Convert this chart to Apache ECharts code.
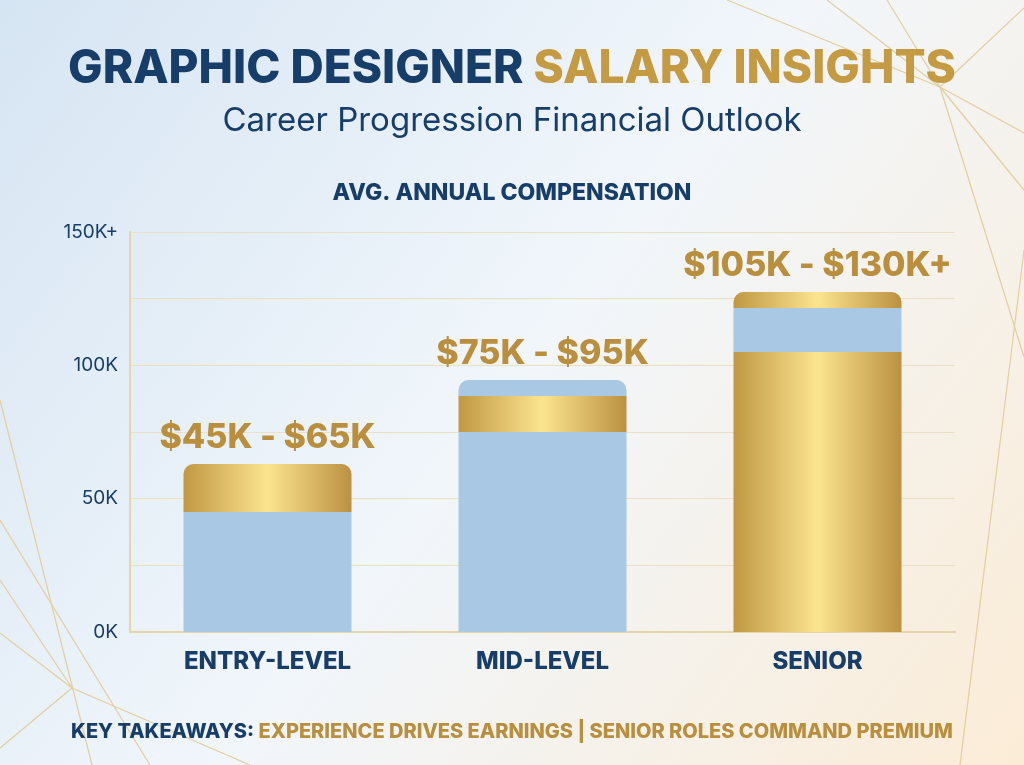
<!DOCTYPE html>
<html>
<head>
<meta charset="utf-8">
<script src="https://cdn.jsdelivr.net/npm/echarts@6/dist/echarts.min.js"></script>
<style>
html, body { margin: 0; padding: 0; }
#main { width: 1024px; height: 765px; }
</style>
</head>
<body>
<div id="main"></div>
<script>
var categories = ['ENTRY-LEVEL', 'MID-LEVEL', 'SENIOR'];
var rangeLabels = ['$45K - $65K', '$75K - $95K', '$105K - $130K+'];
// stacked segments, in thousands
var seg1 = [45, 75, 105];
var seg2 = [18, 13.5, 16.5];
var seg3 = [0, 6, 6];
// tone of the bottom segment, segments alternate upward
var baseTone = ['blue', 'blue', 'gold'];
var yTickValues = [0, 50, 100, 150];
var yTickLabels = ['0K', '50K', '100K', '150K+'];

var NAVY = '#173d69';
var GOLDTXT = '#b98f3e';
var BLUE = '#a9c8e3';
var GOLD = {
    type: 'linear', x: 0, y: 0, x2: 1, y2: 0,
    colorStops: [
        { offset: 0, color: '#c19844' },
        { offset: 0.5, color: '#fce48e' },
        { offset: 1, color: '#bb9142' }
    ]
};

var segs = [seg1, seg2, seg3];

function toneOf(cat, level) {
    var base = baseTone[cat];
    if (level % 2 == 0) return base;
    return base == 'blue' ? 'gold' : 'blue';
}

function topLevel(cat) {
    var top = 0;
    for (var l = 0; l < segs.length; l++) {
        if (segs[l][cat] > 0) top = l;
    }
    return top;
}

var series = [];
for (var l = 0; l < segs.length; l++) {
    var items = [];
    for (var c = 0; c < categories.length; c++) {
        var isTop = topLevel(c) == l;
        var tone = toneOf(c, l);
        items.push({
            value: segs[l][c],
            itemStyle: {
                color: tone == 'gold' ? GOLD : BLUE,
                borderRadius: isTop ? [10, 10, 0, 0] : 0
            },
            label: {
                show: isTop,
                position: 'top',
                distance: 9,
                formatter: rangeLabels[c],
                color: GOLDTXT,
                fontFamily: 'Inter',
                fontWeight: 800,
                fontSize: 34,
                letterSpacing: 0.5
            }
        });
    }
    series.push({
        name: 'seg' + (l + 1),
        type: 'bar',
        stack: 'pay',
        barWidth: 168,
        data: items,
        silent: true
    });
}

var chart = echarts.init(document.getElementById('main'));

var deco = [
    [727, 0, 940, 87], [827, 0, 940, 87], [887, 0, 940, 87],
    [940, 87, 1024, 8], [940, 87, 1024, 133], [940, 87, 1024, 190],
    [940, 87, 1024, 357], [1024, 250, 960, 765],
    [0, 400, 92, 765], [0, 580, 72, 688], [0, 633, 72, 688],
    [72, 688, 0, 748], [72, 688, 250, 765], [0, 520, 150, 765]
];
var graphics = [{
    type: 'rect', z: -10, silent: true,
    shape: { x: 0, y: 0, width: 1024, height: 765 },
    style: {
        fill: {
            type: 'linear', x: 0, y: 0, x2: 1, y2: 1,
            colorStops: [
                { offset: 0, color: '#d6e5f3' },
                { offset: 0.5, color: '#f1f6fb' },
                { offset: 1, color: '#fbecd6' }
            ]
        }
    }
}];
for (var i = 0; i < deco.length; i++) {
    graphics.push({
        type: 'line', z: -9, silent: true,
        shape: { x1: deco[i][0], y1: deco[i][1], x2: deco[i][2], y2: deco[i][3] },
        style: { stroke: '#e2cf9f', lineWidth: 1.2 }
    });
}

var option = {
    animation: false,
    graphic: graphics,
    title: [
        {
            text: '{a|GRAPHIC DESIGNER }{b|SALARY INSIGHTS}',
            left: 'center', top: 41,
            textStyle: {
                rich: {
                    a: { color: NAVY, fontFamily: 'Inter', fontWeight: 800, fontSize: 46, letterSpacing: 0.5 },
                    b: { color: '#c49b42', fontFamily: 'Inter', fontWeight: 800, fontSize: 46, letterSpacing: 0.5 }
                }
            }
        },
        {
            text: 'Career Progression Financial Outlook',
            left: 'center', top: 100,
            textStyle: { color: NAVY, fontFamily: 'Inter', fontWeight: 400, fontSize: 33, letterSpacing: 1.2 }
        },
        {
            text: 'AVG. ANNUAL COMPENSATION',
            left: 'center', top: 177,
            textStyle: { color: NAVY, fontFamily: 'Inter', fontWeight: 800, fontSize: 23, letterSpacing: 1 }
        },
        {
            text: '{a|KEY TAKEAWAYS: }{b|EXPERIENCE DRIVES EARNINGS | SENIOR ROLES COMMAND PREMIUM}',
            left: 'center', top: 717,
            textStyle: {
                rich: {
                    a: { color: NAVY, fontFamily: 'Inter', fontWeight: 800, fontSize: 20, letterSpacing: 0.6 },
                    b: { color: GOLDTXT, fontFamily: 'Inter', fontWeight: 800, fontSize: 20, letterSpacing: 0.6 }
                }
            }
        }
    ],
    grid: { left: 130, right: 69, top: 232, bottom: 133, containLabel: false },
    xAxis: {
        type: 'category',
        data: categories,
        axisLine: { lineStyle: { color: '#e6d4ad', width: 2 } },
        axisTick: { show: false },
        axisLabel: {
            color: NAVY, fontFamily: 'Inter', fontWeight: 800, fontSize: 24, margin: 18, letterSpacing: 1.1
        }
    },
    yAxis: {
        type: 'value',
        min: 0, max: 150, interval: 25,
        axisLine: { show: true, lineStyle: { color: '#e6d4ad', width: 2 } },
        axisTick: { show: false },
        splitLine: { lineStyle: { color: '#ebdfc4', width: 1.2 } },
        axisLabel: {
            color: NAVY, fontFamily: 'Inter', fontSize: 19, margin: 12, letterSpacing: 1,
            formatter: function (v) {
                var k = yTickValues.indexOf(v);
                return k >= 0 ? yTickLabels[k] : '';
            }
        }
    },
    series: series
};
chart.setOption(option);
</script>
</body>
</html>
